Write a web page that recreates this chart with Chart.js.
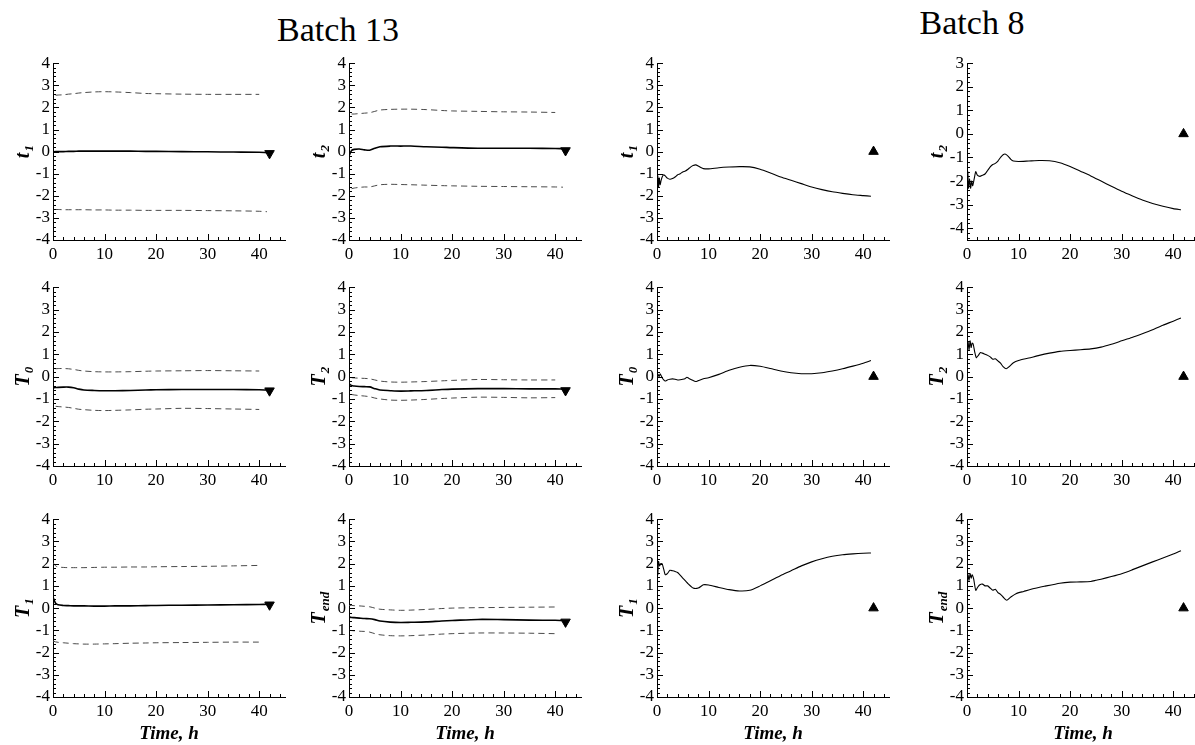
<!DOCTYPE html>
<html>
<head>
<meta charset="utf-8">
<script src="https://cdn.jsdelivr.net/npm/chart.js@4.4.1/dist/chart.umd.min.js"></script>
<style>
  html, body { margin: 0; padding: 0; background: #fff; overflow: hidden; }
  body { width: 1195px; height: 745px; position: relative; }
  .panel { position: absolute; }
  .batch { position: absolute; width: 200px; text-align: center; font: 34px 'Liberation Serif', serif; line-height: 34px; color: #000; }
</style>
</head>
<body>
<div class="batch" style="left:238px; top:13px;">Batch 13</div>
<div class="batch" style="left:872px; top:6px;">Batch 8</div>
<script>
// ---- data ----
// Batch 13: shared time grid (h) for mean and band curves
const b13Time = [0, 0.5, 1, 2, 3, 4, 5, 6, 8, 10, 12, 15, 18, 20, 25, 30, 35, 40, 41.5];

const b13_t1_mean  = [-0.02, 0, 0, 0, 0.01, 0.01, 0.02, 0.02, 0.02, 0.02, 0.02, 0.02, 0.01, 0.01, 0, -0.01, -0.02, -0.03, -0.05];
const b13_t1_upper = [null, 2.55, 2.56, 2.57, 2.6, 2.62, 2.65, 2.67, 2.7, 2.71, 2.7, 2.67, 2.63, 2.62, 2.6, 2.59, 2.59, 2.59, null];
const b13_t1_lower = [null, -2.62, -2.62, -2.63, -2.63, -2.63, -2.63, -2.63, -2.64, -2.64, -2.65, -2.65, -2.66, -2.66, -2.66, -2.67, -2.68, -2.7, -2.72];

const b13_t2_mean  = [-0.2, 0.05, 0.1, 0.12, 0.08, 0.06, 0.15, 0.22, 0.25, 0.25, 0.25, 0.22, 0.2, 0.18, 0.15, 0.15, 0.15, 0.14, 0.13];
const b13_t2_upper = [null, 1.7, 1.7, 1.72, 1.74, 1.76, 1.82, 1.88, 1.91, 1.92, 1.92, 1.9, 1.86, 1.84, 1.82, 1.8, 1.79, 1.77, null];
const b13_t2_lower = [null, -1.68, -1.65, -1.62, -1.6, -1.6, -1.55, -1.5, -1.48, -1.49, -1.5, -1.52, -1.54, -1.55, -1.57, -1.58, -1.59, -1.6, -1.61];

const b13_T0_mean  = [-0.5, -0.49, -0.48, -0.47, -0.47, -0.5, -0.56, -0.6, -0.62, -0.63, -0.63, -0.62, -0.6, -0.59, -0.58, -0.58, -0.58, -0.59, -0.6];
const b13_T0_upper = [null, 0.35, 0.36, 0.36, 0.35, 0.32, 0.28, 0.25, 0.22, 0.21, 0.21, 0.22, 0.24, 0.25, 0.26, 0.27, 0.26, 0.25, null];
const b13_T0_lower = [null, -1.33, -1.34, -1.36, -1.38, -1.42, -1.46, -1.48, -1.51, -1.52, -1.51, -1.49, -1.46, -1.45, -1.42, -1.43, -1.45, -1.47, null];

const b13_T2_mean  = [-0.32, -0.4, -0.42, -0.44, -0.45, -0.46, -0.54, -0.6, -0.63, -0.65, -0.64, -0.62, -0.58, -0.56, -0.54, -0.54, -0.55, -0.55, -0.56];
const b13_T2_upper = [null, -0.05, -0.06, -0.07, -0.08, -0.1, -0.15, -0.2, -0.24, -0.25, -0.24, -0.22, -0.19, -0.17, -0.13, -0.14, -0.15, -0.15, null];
const b13_T2_lower = [null, -0.8, -0.82, -0.85, -0.87, -0.9, -0.96, -1.0, -1.05, -1.06, -1.05, -1.02, -0.98, -0.96, -0.92, -0.93, -0.95, -0.94, null];

const b13_T1_mean  = [0.5, 0.22, 0.15, 0.12, 0.11, 0.1, 0.1, 0.1, 0.09, 0.09, 0.1, 0.1, 0.11, 0.12, 0.13, 0.14, 0.15, 0.16, 0.17];
const b13_T1_upper = [2.05, 1.9, 1.85, 1.83, 1.82, 1.82, 1.82, 1.82, 1.83, 1.84, 1.84, 1.85, 1.85, 1.86, 1.87, 1.88, 1.9, 1.92, null];
const b13_T1_lower = [-1.48, -1.52, -1.54, -1.56, -1.58, -1.6, -1.61, -1.62, -1.62, -1.61, -1.6, -1.58, -1.57, -1.56, -1.55, -1.54, -1.53, -1.53, null];

const b13_Tend_mean  = [-0.4, -0.42, -0.43, -0.45, -0.47, -0.48, -0.52, -0.58, -0.63, -0.65, -0.64, -0.62, -0.58, -0.56, -0.51, -0.52, -0.54, -0.55, -0.56];
const b13_Tend_upper = [0.12, 0.12, 0.11, 0.1, 0.08, 0.06, 0.0, -0.05, -0.08, -0.1, -0.09, -0.06, -0.02, 0.0, 0.02, 0.03, 0.04, 0.05, null];
const b13_Tend_lower = [-1.0, -1.01, -1.02, -1.04, -1.05, -1.08, -1.15, -1.2, -1.24, -1.25, -1.24, -1.21, -1.17, -1.15, -1.12, -1.12, -1.13, -1.15, null];

// final measured values (markers) for batch 13 at t = 42 h
const b13MarkerTime = 42;
const b13_markers = { t1: -0.08, t2: 0.05, T0: -0.63, T2: -0.62, T1: 0.15, Tend: -0.62 };

// Batch 8: one trajectory per statistic
const b8_t1_time = [0, 0.15, 0.3, 0.45, 0.6, 0.8, 1.0, 1.3, 1.6, 2, 2.5, 3, 3.5, 4, 4.5, 5, 5.5, 6, 6.5, 7, 7.5, 8, 8.5, 9, 10, 12, 14, 16, 18, 20, 22, 24, 26, 28, 30, 32, 34, 36, 38, 40, 41.5];
const b8_t1 = [-1.9, -1.1, -1.6, -1.2, -1.5, -1.3, -1.15, -1.05, -1.1, -1.2, -1.25, -1.22, -1.15, -1.05, -1.0, -0.92, -0.88, -0.8, -0.7, -0.63, -0.6, -0.65, -0.72, -0.77, -0.78, -0.73, -0.7, -0.68, -0.69, -0.8, -0.97, -1.15, -1.3, -1.45, -1.6, -1.72, -1.82, -1.89, -1.95, -1.99, -2.02];

const b8_t2_time = [0, 0.15, 0.3, 0.5, 0.7, 0.9, 1.1, 1.4, 1.7, 2, 2.5, 3, 3.5, 4, 4.5, 5, 5.5, 6, 6.5, 7, 7.5, 8, 8.5, 9, 10, 12, 14, 16, 18, 20, 22, 24, 26, 28, 30, 32, 34, 36, 38, 40, 41.5];
const b8_t2 = [-2.6, -1.6, -2.3, -1.9, -2.3, -2.0, -2.2, -1.9, -1.6, -1.75, -1.8, -1.75, -1.7, -1.55, -1.4, -1.3, -1.25, -1.15, -1.0, -0.88, -0.86, -0.95, -1.08, -1.15, -1.17, -1.15, -1.13, -1.14, -1.22, -1.38, -1.58, -1.78, -2.0, -2.22, -2.43, -2.62, -2.8, -2.95, -3.07, -3.17, -3.22];

const b8_T0_time = [0, 0.2, 0.4, 0.6, 0.8, 1, 1.3, 1.6, 2, 2.5, 3, 3.5, 4, 4.5, 5, 5.5, 5.8, 6.2, 6.8, 7.5, 8, 9, 10, 12, 14, 16, 18, 20, 22, 24, 26, 28, 30, 32, 34, 36, 38, 40, 41.5];
const b8_T0 = [-0.1, 0.1, 0.0, 0.12, 0.05, -0.05, -0.15, -0.2, -0.15, -0.12, -0.1, -0.12, -0.15, -0.14, -0.12, -0.08, -0.03, -0.08, -0.15, -0.22, -0.18, -0.1, -0.05, 0.1, 0.28, 0.42, 0.5, 0.46, 0.36, 0.25, 0.17, 0.13, 0.13, 0.17, 0.25, 0.35, 0.47, 0.6, 0.72];

const b8_T2_time = [0, 0.2, 0.4, 0.6, 0.8, 1, 1.2, 1.5, 1.8, 2.2, 2.6, 3, 3.5, 4, 4.5, 5, 5.5, 6, 6.5, 7, 7.6, 8.2, 9, 10, 12, 14, 16, 18, 20, 22, 24, 26, 28, 30, 32, 34, 36, 38, 40, 41.5];
const b8_T2 = [1.0, 1.55, 1.2, 1.6, 1.3, 1.5, 1.45, 1.1, 0.85, 0.95, 1.08, 1.05, 1.0, 0.95, 0.88, 0.78, 0.8, 0.7, 0.6, 0.45, 0.35, 0.45, 0.62, 0.72, 0.83, 0.95, 1.05, 1.13, 1.17, 1.2, 1.24, 1.32, 1.45, 1.6, 1.75, 1.92, 2.1, 2.3, 2.48, 2.62];

const b8_T1_time = [0, 0.15, 0.3, 0.5, 0.7, 1, 1.3, 1.6, 2, 2.5, 3, 3.5, 4, 5, 6, 7, 8, 9, 10, 12, 14, 16, 18, 20, 22, 24, 26, 28, 30, 32, 34, 36, 38, 40, 41.5];
const b8_T1 = [2.6, 1.5, 2.1, 1.9, 2.0, 2.0, 1.75, 1.5, 1.55, 1.7, 1.68, 1.65, 1.6, 1.35, 1.1, 0.9, 0.9, 1.05, 1.04, 0.93, 0.83, 0.77, 0.8, 1.0, 1.23, 1.47, 1.68, 1.9, 2.08, 2.22, 2.33, 2.4, 2.44, 2.47, 2.48];

const b8_Tend_time = [0, 0.2, 0.4, 0.6, 0.8, 1, 1.3, 1.7, 2.1, 2.5, 3, 3.5, 4, 4.5, 5, 5.5, 6, 6.5, 7, 7.7, 8.5, 9.5, 11, 13, 15, 18, 20, 22, 24, 25, 26, 28, 30, 32, 34, 36, 38, 40, 41.5];
const b8_Tend = [1.0, 1.5, 1.25, 1.55, 1.35, 1.5, 1.3, 0.8, 0.95, 1.05, 1.08, 1.0, 1.0, 0.9, 0.8, 0.85, 0.7, 0.62, 0.5, 0.35, 0.5, 0.65, 0.75, 0.88, 0.98, 1.12, 1.17, 1.18, 1.2, 1.25, 1.3, 1.42, 1.55, 1.72, 1.9, 2.08, 2.25, 2.43, 2.58];

// batch 8 reference markers at t = 42 h
const b8MarkerTime = 42;
const b8MarkerValue = 0;

// axis ranges / tick labels
const xMax = 45;
const xTickValues = [0, 10, 20, 30, 40];
const yTickValues = [-4, -3, -2, -1, 0, 1, 2, 3, 4];
const yRangeDefault = [-4, 4];
const yRangeB8t2 = [-4.5, 3];

// ---- layout ----
const colAxisX = [53, 349, 657, 967];
const rowTop = [62, 286, 518];
const rowBottom = [240, 466, 697];
const plotW = 232;
const padL = 53, padT = 12, padR = 8, padB = 48;

const serif = "'Liberation Serif', 'Times New Roman', serif";
Chart.defaults.font.family = serif;
Chart.defaults.color = '#000';

const pts = (xs, ys) => xs.map((x, i) => ({ x: x, y: ys[i] }));

// inward tick marks + subscripted y-axis title
const frame = {
  id: 'frame',
  afterDraw(chart, args, opts) {
    const { ctx, chartArea: a, scales: { x, y } } = chart;
    ctx.save();
    ctx.strokeStyle = '#000';
    ctx.lineWidth = 1;
    ctx.beginPath();
    for (let v = 0; v < x.max; v += 2) {
      const px = Math.round(x.getPixelForValue(v)) + 0.5;
      const len = v % 10 === 0 ? 6 : 3;
      ctx.moveTo(px, a.bottom);
      ctx.lineTo(px, a.bottom - len);
    }
    for (let i = Math.ceil(y.min * 5); i <= Math.floor(y.max * 5); i++) {
      const py = Math.round(y.getPixelForValue(i / 5)) + 0.5;
      const len = i % 5 === 0 ? 6 : 3;
      ctx.moveTo(a.left, py);
      ctx.lineTo(a.left + len, py);
    }
    ctx.stroke();

    // y title, rotated, with subscript
    const mainFont = 'bold italic 20px ' + serif;
    const subFont = 'bold italic 13px ' + serif;
    ctx.font = mainFont;
    const wMain = ctx.measureText(opts.main).width;
    ctx.font = subFont;
    const wSub = ctx.measureText(opts.sub).width;
    const total = wMain + wSub + 1;
    ctx.translate(a.left - 24, (a.top + a.bottom) / 2);
    ctx.rotate(-Math.PI / 2);
    ctx.fillStyle = '#000';
    ctx.textAlign = 'left';
    ctx.textBaseline = 'alphabetic';
    ctx.font = mainFont;
    ctx.fillText(opts.main, -total / 2, 0);
    ctx.font = subFont;
    ctx.fillText(opts.sub, -total / 2 + wMain + 1, 4);
    ctx.restore();
  }
};

function makePanel(col, row, title, yRange, datasets) {
  const plotH = rowBottom[row] - rowTop[row];
  const w = padL + plotW + padR;
  const h = padT + plotH + padB;
  const div = document.createElement('div');
  div.className = 'panel';
  div.style.left = (colAxisX[col] - padL) + 'px';
  div.style.top = (rowTop[row] - padT) + 'px';
  const cv = document.createElement('canvas');
  cv.width = w; cv.height = h;
  cv.style.width = w + 'px'; cv.style.height = h + 'px';
  div.appendChild(cv);
  document.body.appendChild(div);

  const yTicks = yTickValues.filter(v => v >= yRange[0] && v <= yRange[1]);

  new Chart(cv.getContext('2d'), {
    type: 'line',
    data: { datasets: datasets },
    plugins: [frame],
    options: {
      responsive: false,
      animation: false,
      devicePixelRatio: 1,
      layout: { padding: { top: padT, right: padR, left: 0, bottom: 0 } },
      plugins: {
        legend: { display: false },
        tooltip: { enabled: false },
        frame: title
      },
      scales: {
        x: {
          type: 'linear',
          min: 0, max: xMax,
          grid: { display: false, drawTicks: false },
          border: { display: true, color: '#000', width: 1 },
          ticks: { padding: 4, font: { size: 17 }, maxRotation: 0, autoSkip: false },
          afterBuildTicks: s => { s.ticks = xTickValues.map(v => ({ value: v })); },
          afterFit: s => { s.height = padB; },
          title: {
            display: row === 2,
            text: 'Time, h',
            font: { size: 19, style: 'italic', weight: 'bold' },
            padding: { top: 0, bottom: 0 }
          }
        },
        y: {
          type: 'linear',
          min: yRange[0], max: yRange[1],
          grid: { display: false, drawTicks: false },
          border: { display: true, color: '#000', width: 1 },
          ticks: { padding: 3, font: { size: 17 }, autoSkip: false },
          afterBuildTicks: s => { s.ticks = yTicks.map(v => ({ value: v })); },
          afterFit: s => { s.width = padL; }
        }
      }
    }
  });
}

function b13Sets(mean, upper, lower, marker) {
  const band = ys => ({
    data: pts(b13Time, ys), borderColor: '#4a4a4a', borderWidth: 1, borderDash: [6, 4],
    pointRadius: 0, tension: 0.3, spanGaps: false
  });
  return [
    band(upper),
    band(lower),
    { data: pts(b13Time, mean), borderColor: '#000', borderWidth: 1.6, pointRadius: 0, tension: 0.3 },
    { data: [{ x: b13MarkerTime, y: marker }], showLine: false, pointStyle: 'triangle', pointRotation: 180,
      pointRadius: 5.5, backgroundColor: '#000', borderColor: '#000', borderWidth: 1 }
  ];
}

function b8Sets(xs, ys) {
  return [
    { data: pts(xs, ys), borderColor: '#000', borderWidth: 1.1, pointRadius: 0, tension: 0.2 },
    { data: [{ x: b8MarkerTime, y: b8MarkerValue }], showLine: false, pointStyle: 'triangle',
      pointRadius: 5.5, backgroundColor: '#000', borderColor: '#000', borderWidth: 1 }
  ];
}

// Batch 13 (columns 0,1)
makePanel(0, 0, { main: 't', sub: '1' }, yRangeDefault, b13Sets(b13_t1_mean, b13_t1_upper, b13_t1_lower, b13_markers.t1));
makePanel(1, 0, { main: 't', sub: '2' }, yRangeDefault, b13Sets(b13_t2_mean, b13_t2_upper, b13_t2_lower, b13_markers.t2));
makePanel(0, 1, { main: 'T', sub: '0' }, yRangeDefault, b13Sets(b13_T0_mean, b13_T0_upper, b13_T0_lower, b13_markers.T0));
makePanel(1, 1, { main: 'T', sub: '2' }, yRangeDefault, b13Sets(b13_T2_mean, b13_T2_upper, b13_T2_lower, b13_markers.T2));
makePanel(0, 2, { main: 'T', sub: '1' }, yRangeDefault, b13Sets(b13_T1_mean, b13_T1_upper, b13_T1_lower, b13_markers.T1));
makePanel(1, 2, { main: 'T', sub: 'end' }, yRangeDefault, b13Sets(b13_Tend_mean, b13_Tend_upper, b13_Tend_lower, b13_markers.Tend));

// Batch 8 (columns 2,3)
makePanel(2, 0, { main: 't', sub: '1' }, yRangeDefault, b8Sets(b8_t1_time, b8_t1));
makePanel(3, 0, { main: 't', sub: '2' }, yRangeB8t2, b8Sets(b8_t2_time, b8_t2));
makePanel(2, 1, { main: 'T', sub: '0' }, yRangeDefault, b8Sets(b8_T0_time, b8_T0));
makePanel(3, 1, { main: 'T', sub: '2' }, yRangeDefault, b8Sets(b8_T2_time, b8_T2));
makePanel(2, 2, { main: 'T', sub: '1' }, yRangeDefault, b8Sets(b8_T1_time, b8_T1));
makePanel(3, 2, { main: 'T', sub: 'end' }, yRangeDefault, b8Sets(b8_Tend_time, b8_Tend));
</script>
</body>
</html>
